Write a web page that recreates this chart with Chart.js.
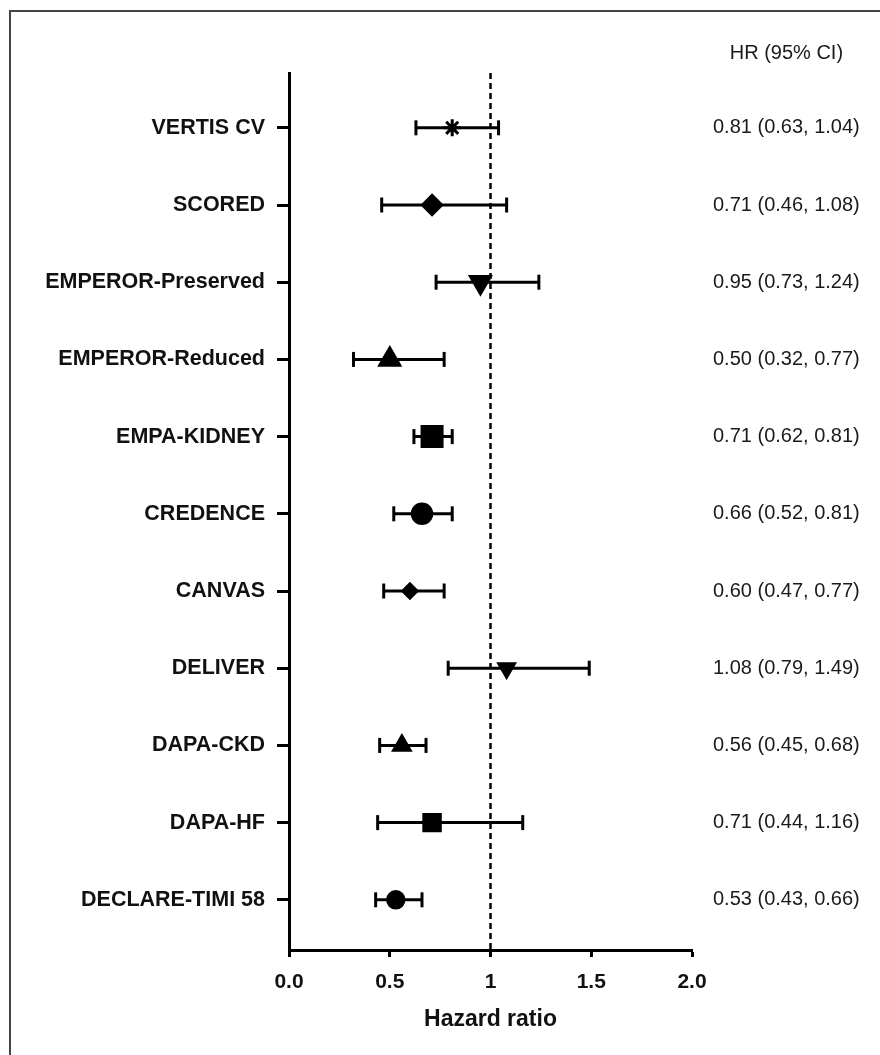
<!DOCTYPE html>
<html>
<head>
<meta charset="utf-8">
<style>
  html, body { margin: 0; padding: 0; background: #fff; }
  #wrap { position: relative; width: 880px; height: 1055px; overflow: hidden; }
  #frame { position: absolute; left: 9px; top: 10px; width: 900px; height: 1100px;
           border-top: 2px solid #454545; border-left: 2px solid #454545; }
  #chart { position: absolute; left: 0; top: 0; }
</style>
<script src="https://cdn.jsdelivr.net/npm/chart.js@4.4.1/dist/chart.umd.min.js"></script>
</head>
<body>
<div id="wrap">
  <div id="frame"></div>
  <canvas id="chart" width="880" height="1055"></canvas>
</div>
<script>
  // trials, top to bottom
  const studies = ["VERTIS CV", "SCORED", "EMPEROR-Preserved", "EMPEROR-Reduced", "EMPA-KIDNEY",
    "CREDENCE", "CANVAS", "DELIVER", "DAPA-CKD", "DAPA-HF", "DECLARE-TIMI 58"];
  const hr    = [0.81, 0.71, 0.95, 0.50, 0.71, 0.66, 0.60, 1.08, 0.56, 0.71, 0.53];
  const lower = [0.63, 0.46, 0.73, 0.32, 0.62, 0.52, 0.47, 0.79, 0.45, 0.44, 0.43];
  const upper = [1.04, 1.08, 1.24, 0.77, 0.81, 0.81, 0.77, 1.49, 0.68, 1.16, 0.66];
  const xTicks = [0, 0.5, 1, 1.5, 2];
  const xTickLabels = ["0.0", "0.5", "1", "1.5", "2.0"];
  const refValue = 1;

  // marker look per row
  const markerStyle = ["star", "rectRot", "triangle", "triangle", "rect", "circle", "rectRot", "triangle", "triangle", "rect", "circle"];
  const markerSize = [8.5, 10, 12, 12, 14.5, 10, 7.5, 9.5, 10, 12, 8.5];
  const markerRot = [0, 0, 180, 0, 0, 0, 0, 180, 0, 0, 0];
  const markerLine = [3, 2.5, 2.5, 2.5, 2.5, 2.5, 2.5, 2.5, 2.5, 2.5, 2.5];

  const FONT = "'Liberation Sans', Arial, Helvetica, sans-serif";
  const yMin = -0.71, yMax = 10.65;

  const ciLabel = i => hr[i].toFixed(2) + " (" + lower[i].toFixed(2) + ", " + upper[i].toFixed(2) + ")";

  const rowTicks = scale => { scale.ticks = studies.map((s, i) => ({ value: i })); };

  const datasets = [];
  // dashed line of no effect
  datasets.push({
    type: "line", order: 3,
    data: [{ x: refValue, y: yMin }, { x: refValue, y: yMax }],
    borderColor: "#000", borderWidth: 2.5, borderDash: [6, 4],
    pointRadius: 0, clip: false
  });
  // confidence intervals with caps
  studies.forEach((s, i) => {
    datasets.push({
      type: "line", order: 2,
      data: [{ x: lower[i], y: i }, { x: upper[i], y: i }],
      borderColor: "#000", borderWidth: 3,
      pointStyle: "line", pointRotation: 90, pointRadius: 7.5,
      pointBorderWidth: 3, pointBorderColor: "#000"
    });
  });
  // point estimates
  datasets.push({
    type: "scatter", order: 1,
    data: hr.map((v, i) => ({ x: v, y: i })),
    pointStyle: markerStyle, pointRadius: markerSize, pointRotation: markerRot,
    backgroundColor: "#000", borderColor: "#000", borderWidth: markerLine
  });

  const headerPlugin = {
    id: "header",
    afterDraw(chart) {
      const ctx = chart.ctx, yr = chart.scales.yr;
      ctx.save();
      ctx.font = "20px " + FONT;
      const w = ctx.measureText(ciLabel(0)).width;
      ctx.fillStyle = "#1a1a1a";
      ctx.textAlign = "center";
      ctx.textBaseline = "middle";
      ctx.fillText("HR (95% CI)", yr.left + 21 + w / 2, 53);
      ctx.restore();
    }
  };

  new Chart(document.getElementById("chart"), {
    data: { datasets },
    options: {
      responsive: false,
      animation: false,
      layout: { padding: { top: 73, left: 0, right: 0, bottom: 0 } },
      plugins: { legend: { display: false }, tooltip: { enabled: false } },
      scales: {
        x: {
          type: "linear", min: 0, max: 2,
          afterBuildTicks: s => { s.ticks = xTicks.map(v => ({ value: v })); },
          afterFit: s => { s.height = 105; },
          border: { display: true, color: "#000", width: 3 },
          grid: { display: true, drawOnChartArea: false, drawTicks: true, tickLength: 7, tickWidth: 3, tickColor: "#000" },
          ticks: {
            padding: 13, color: "#111",
            font: { family: FONT, size: 21, weight: "bold" },
            callback: (v, i) => xTickLabels[i]
          },
          title: {
            display: true, text: "Hazard ratio", color: "#111", padding: { top: 12, bottom: 22 },
            font: { family: FONT, size: 23, weight: "bold" }
          }
        },
        y: {
          type: "linear", position: "left", reverse: true, min: yMin, max: yMax,
          afterBuildTicks: rowTicks,
          afterFit: s => { s.width = 289; },
          border: { display: true, color: "#000", width: 3 },
          grid: { display: true, drawOnChartArea: false, drawTicks: true, tickLength: 12, tickWidth: 3, tickColor: "#000" },
          ticks: {
            padding: 12, color: "#111",
            font: { family: FONT, size: 21.5, weight: "bold" },
            callback: (v) => studies[v]
          }
        },
        yr: {
          type: "linear", position: "right", reverse: true, min: yMin, max: yMax,
          afterBuildTicks: rowTicks,
          afterFit: s => { s.width = 188; },
          border: { display: false },
          grid: { display: false, drawTicks: false },
          ticks: {
            padding: 21, color: "#1a1a1a",
            font: { family: FONT, size: 20 },
            callback: (v) => ciLabel(v)
          }
        }
      }
    },
    plugins: [headerPlugin]
  });
</script>
</body>
</html>
